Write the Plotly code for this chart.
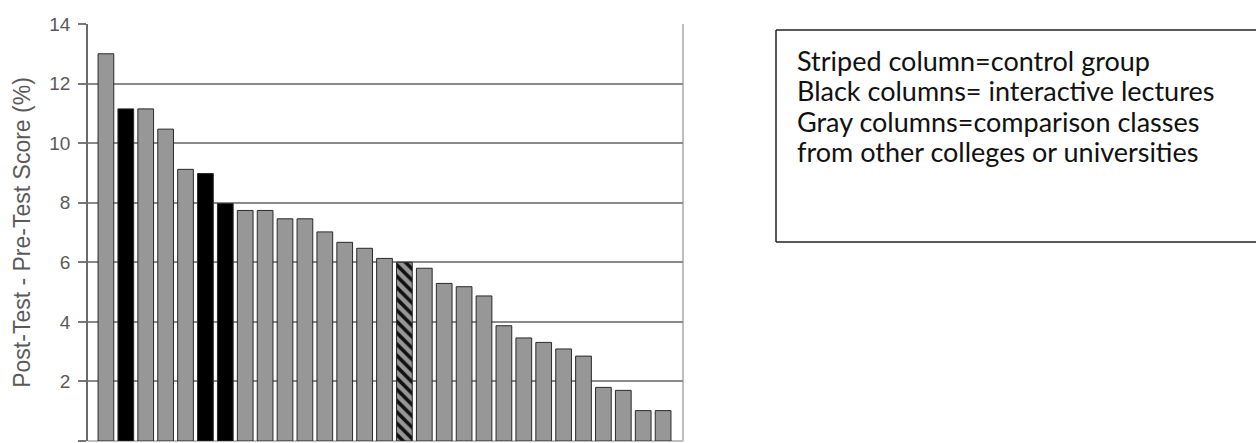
import plotly.graph_objects as go

# Data
classes = list(range(1, 30))
gain = [13.0, 11.15, 11.15, 10.47, 9.12, 8.98, 7.97, 7.74, 7.74, 7.46, 7.46, 7.02, 6.67,
        6.47, 6.13, 6.0, 5.8, 5.29, 5.18, 4.87, 3.87, 3.46, 3.31, 3.09, 2.85, 1.8, 1.7,
        1.02, 1.02]
group = ["gray", "black", "gray", "gray", "gray", "black", "black", "gray", "gray", "gray",
         "gray", "gray", "gray", "gray", "gray", "striped", "gray", "gray", "gray", "gray",
         "gray", "gray", "gray", "gray", "gray", "gray", "gray", "gray", "gray"]
y_ticks = [0, 2, 4, 6, 8, 10, 12, 14]
legend_lines = ["Striped column=control group",
                "Black columns= interactive lectures",
                "Gray columns=comparison classes",
                "from other colleges or universities"]

fill_map = {"gray": "#979797", "black": "#000000"}

W, H = 1256, 443
L, R, T, B = 88, 683, 24, 441

fig = go.Figure()
for g in ["gray", "black"]:
    idx = [i for i, k in enumerate(group) if k == g]
    fig.add_trace(go.Bar(
        x=[classes[i] - 1 for i in idx],
        y=[gain[i] for i in idx],
        marker=dict(color=fill_map[g], line=dict(color="#2a2a2a", width=1)),
        showlegend=False, hoverinfo="skip",
    ))
idx = [i for i, k in enumerate(group) if k == "striped"]
fig.add_trace(go.Bar(
    x=[classes[i] - 1 for i in idx],
    y=[gain[i] for i in idx],
    marker=dict(
        color="#979797",
        line=dict(color="#2a2a2a", width=1),
        pattern=dict(shape="\\", fgcolor="#111111", bgcolor="#979797",
                     size=8, solidity=0.45, fillmode="replace"),
    ),
    showlegend=False, hoverinfo="skip",
))

fig.update_layout(
    width=W, height=H,
    margin=dict(l=L, r=W - R, t=T, b=H - B, pad=0),
    paper_bgcolor="white", plot_bgcolor="white",
    barmode="overlay", bargap=0.21,
    font=dict(family="Liberation Sans, Arial, sans-serif", color="#5a5a5a"),
)
fig.update_xaxes(
    range=[-0.9, 29.0], showticklabels=False, ticks="", showgrid=False,
    zeroline=False, showline=False,
)
fig.update_yaxes(
    range=[0, 14], tickvals=y_ticks, ticks="outside", ticklen=8, tickcolor="#777777",
    tickwidth=1.5, tickfont=dict(size=19, color="#5a5a5a"), ticklabelstandoff=4,
    showgrid=True, gridcolor="#8a8a8a", gridwidth=1.5,
    zeroline=False, showline=True, linecolor="#6a6a6a", linewidth=1.5,
    title=dict(text="Post-Test - Pre-Test Score (%)", font=dict(size=23, color="#5a5a5a"),
               standoff=12),
)

# darker gridline at 10 and frame edges
fig.add_shape(type="line", xref="paper", yref="y", x0=0, x1=1, y0=10, y1=10,
              line=dict(color="#111111", width=1.5), layer="below")
fig.add_shape(type="line", xref="paper", yref="paper", x0=1, x1=1, y0=0, y1=1,
              line=dict(color="#aaaaaa", width=1.5), layer="below")
fig.add_shape(type="line", xref="paper", yref="paper", x0=0, x1=1, y0=0, y1=0,
              line=dict(color="#aaaaaa", width=1.5), layer="below")


def px_x(px):
    return (px - L) / (R - L)


def px_y(py):
    return (B - py) / (B - T)


# explanation box (its right edge runs off the picture)
box_l, box_r, box_t, box_b = 776, 1300, 30, 242
for x0, y0, x1, y1 in [(box_l, box_t, box_r, box_t), (box_l, box_b, box_r, box_b),
                       (box_l, box_t, box_l, box_b)]:
    fig.add_shape(type="line", xref="paper", yref="paper",
                  x0=px_x(x0), x1=px_x(x1), y0=px_y(y0), y1=px_y(y1),
                  line=dict(color="#222222", width=1.5))

for i, line in enumerate(legend_lines):
    fig.add_annotation(
        xref="paper", yref="paper", x=px_x(795), y=px_y(60 + 30.5 * i),
        text=line, showarrow=False, xanchor="left", yanchor="middle",
        font=dict(family="Lato, Carlito, Calibri, sans-serif", size=27, color="#111111"),
    )

fig.write_html(
    "out.html",
    config={"displayModeBar": False},
    post_script="document.body.style.margin='0';document.body.style.overflow='hidden';",
)
